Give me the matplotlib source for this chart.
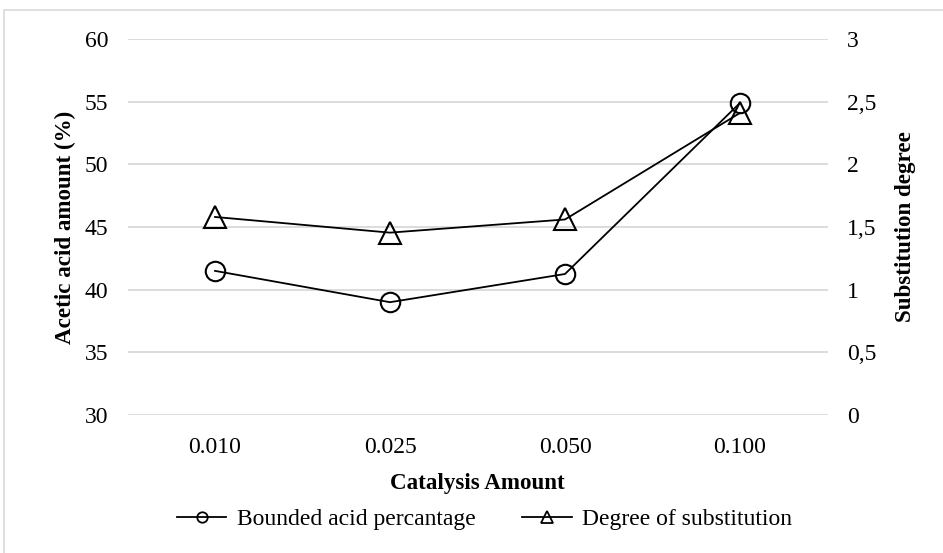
import matplotlib as mpl
mpl.use("Agg")
import matplotlib.pyplot as plt
from matplotlib.lines import Line2D
from matplotlib.patches import Rectangle
from matplotlib.ticker import FuncFormatter

mpl.rcParams.update({"font.family": "serif",
                     "font.serif": ["Liberation Serif", "DejaVu Serif"]})

# data
categories = ["0.010", "0.025", "0.050", "0.100"]
bounded_acid = [41.5, 39.0, 41.25, 54.9]          # left axis, %
subst_degree = [1.58, 1.455, 1.56, 2.41]          # right axis
left_ticks = [30, 35, 40, 45, 50, 55, 60]
right_ticks = [0, 0.5, 1, 1.5, 2, 2.5, 3]

W, H = 943, 553
fig = plt.figure(figsize=(W/100, H/100), dpi=100)
ax = fig.add_axes([127.5/W, 1-415/H, 700/W, 376/H])
ax2 = ax.twinx()

# outer chart frame (only top and left edges fall inside the image)
fig.patches.append(Rectangle((4/W, -0.1), 1.2, 1.1-10/H, transform=fig.transFigure,
                             fill=False, edgecolor="#d9d9d9", lw=1.2))

x = list(range(len(categories)))
ax.set_xlim(-0.5, len(categories)-0.5)
ax.set_ylim(30, 60)
ax2.set_ylim(0, 3)
ax.set_yticks(left_ticks)
ax2.set_yticks(right_ticks)
ax2.yaxis.set_major_formatter(FuncFormatter(lambda v, p: f"{v:g}".replace(".", ",")))
ax.set_xticks(x)
ax.set_xticklabels(categories)
ax.yaxis.grid(True, color="#d9d9d9", lw=1.3)
ax.set_axisbelow(True)
for a in (ax, ax2):
    for s in a.spines.values():
        s.set_visible(False)
ax.tick_params(axis="y", length=0, pad=14, labelsize=17)
ax.tick_params(axis="x", length=0, pad=16, labelsize=17)
ax2.tick_params(axis="y", length=0, pad=14, labelsize=17)

ax.plot(x, bounded_acid, color="black", lw=1.3, marker="o", ms=14,
        mfc="none", mec="black", mew=1.5, zorder=3)
ax2.plot(x, subst_degree, color="black", lw=1.3, marker="^", ms=16,
         mfc="none", mec="black", mew=1.5, zorder=3)

ax.set_xlabel("Catalysis Amount", fontsize=16.6, fontweight="bold", labelpad=10.5)
ax.set_ylabel("Acetic acid amount (%)", fontsize=16.6, fontweight="bold", labelpad=6)
ax2.set_ylabel("Substitution degree", fontsize=16.6, fontweight="bold", labelpad=13)

handles = [Line2D([], [], color="black", lw=1.3, marker="o", ms=7.5, mfc="none", mew=1.3),
           Line2D([], [], color="black", lw=1.3, marker="^", ms=8, mfc="none", mew=1.3)]
fig.legend(handles, ["Bounded acid percantage", "Degree of substitution"],
           loc="center", bbox_to_anchor=(0.5 + 13/W, 1-519/H), ncol=2, frameon=False,
           fontsize=17, handlelength=2.1, handletextpad=0.43, columnspacing=2.0)

fig.savefig("out.png", dpi=100)
